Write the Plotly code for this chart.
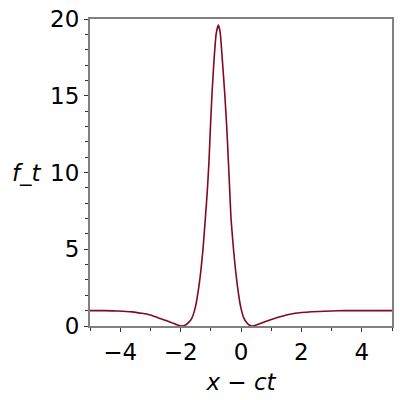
import plotly.graph_objects as go

# points
x_vals = [-5.0, -4.5, -4.08, -3.6, -3.3, -3.0, -2.75, -2.46, -2.3, -2.1, -1.95,
          -1.85, -1.75, -1.63, -1.521, -1.388, -1.266, -1.18, -1.114, -1.058,
          -1.012, -0.959, -0.893, -0.82, -0.75, -0.69, -0.618, -0.539, -0.473,
          -0.42, -0.374, -0.331, -0.241, -0.122, 0.0, 0.099, 0.2, 0.28, 0.36,
          0.55, 0.79, 1.23, 1.79, 2.34, 3.0, 3.44, 4.2, 5.0]
y_vals = [1.0, 1.0, 0.98, 0.92, 0.83, 0.72, 0.54, 0.35, 0.22, 0.06, 0.0,
          0.05, 0.2, 0.5, 1.15, 2.67, 4.84, 7.02, 8.86, 10.81,
          12.98, 15.16, 17.33, 19.06, 19.6, 19.13, 17.33, 15.16, 12.98,
          10.81, 8.86, 7.02, 4.84, 2.67, 1.15, 0.5, 0.19, 0.05, 0.0,
          0.1, 0.28, 0.57, 0.83, 0.93, 0.98, 1.0, 1.0, 1.0]

font_name = "DejaVu Sans"
axis_grey = "#808080"

fig = go.Figure()
fig.add_trace(go.Scatter(
    x=x_vals, y=y_vals, mode="lines",
    line=dict(color="#800a1e", width=1.6, shape="spline", smoothing=0.5),
    showlegend=False,
))

fig.update_layout(
    width=400, height=400,
    margin=dict(l=90, r=8, t=19, b=74),
    plot_bgcolor="white", paper_bgcolor="white",
    font=dict(family=font_name, size=23, color="black"),
)

fig.update_xaxes(
    range=[-5, 5], dtick=2, tick0=0,
    showgrid=False, zeroline=False, automargin=False,
    showline=True, linecolor=axis_grey, linewidth=2, mirror=True,
    ticks="outside", ticklen=4, tickwidth=1, tickcolor="#333333",
    minor=dict(dtick=1, ticks="outside", ticklen=3, tickcolor="#333333"),
    ticklabeloverflow="allow",
    title=dict(text="<i>x − ct</i>", font=dict(size=23), standoff=10),
)
fig.update_yaxes(
    range=[0, 20], dtick=5, tick0=0,
    showgrid=False, zeroline=False, automargin=False,
    showline=True, linecolor=axis_grey, linewidth=2, mirror=True,
    ticks="outside", ticklen=4, tickwidth=1, tickcolor="#333333",
    minor=dict(dtick=1, ticks="outside", ticklen=3, tickcolor="#333333"),
    ticklabeloverflow="allow",
)

# horizontal y label like the original
fig.add_annotation(
    text="<i>f_t</i>", xref="paper", yref="paper",
    x=0, y=0.5, xanchor="right", yanchor="middle",
    xshift=-46, showarrow=False, font=dict(size=23),
)

# drop the default 8px page margin so the figure fills the window
fig.write_html("out.html", config={"displayModeBar": False},
               post_script="document.body.style.margin = '0';")
